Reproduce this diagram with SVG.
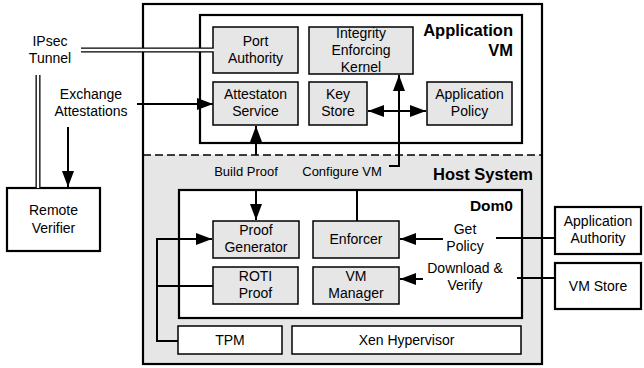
<svg xmlns="http://www.w3.org/2000/svg" width="644" height="368" viewBox="0 0 644 368">
<defs>
<marker id="ah" viewBox="0 0 16 12" refX="16" refY="6" markerWidth="8" markerHeight="6" markerUnits="strokeWidth" orient="auto-start-reverse">
<path d="M0,0 L16,6 L0,12 z" fill="#000"/>
</marker>
</defs>
<style>
text{font-family:"Liberation Sans",Arial,sans-serif;fill:#000}
.t{font-size:14px;text-anchor:middle}
.s{font-size:13px;text-anchor:middle}
.b{font-size:16.5px;font-weight:bold;text-anchor:end}
.box{fill:#e6e6e6;stroke:#000;stroke-width:1.5}
.wbox{fill:#fff;stroke:#000;stroke-width:1.5}
.big{fill:#fff;stroke:#000;stroke-width:2.2}
.ln{fill:none;stroke:#000;stroke-width:2}
.arr{fill:none;stroke:#000;stroke-width:2;marker-end:url(#ah)}
</style>
<g id="host">
<rect x="143" y="4" width="399" height="360" fill="#fff" stroke="none"/>
<rect x="143" y="155" width="399" height="209" fill="#e6e6e6"/>
<line x1="143" y1="155" x2="542" y2="155" stroke="#000" stroke-width="1.5" stroke-dasharray="8,4"/>
<rect x="143" y="4" width="399" height="360" fill="none" stroke="#000" stroke-width="2.2"/>
<text class="b" x="533" y="180">Host System</text>
</g>
<g id="appvm">
<rect class="big" x="200" y="15" width="322" height="128"/>
<text class="b" x="513" y="36">Application</text>
<text class="b" x="513" y="56">VM</text>
</g>
<g id="port-authority">
<rect class="box" x="213" y="27" width="85" height="46"/>
<text class="t" x="255.5" y="46">Port</text>
<text class="t" x="255.5" y="63">Authority</text>
</g>
<g id="iek">
<rect class="box" x="309" y="27" width="104" height="47"/>
<text class="t" x="361" y="38">Integrity</text>
<text class="t" x="361" y="55">Enforcing</text>
<text class="t" x="361" y="72">Kernel</text>
</g>
<g id="attestation-service">
<rect class="box" x="213" y="82" width="85" height="43"/>
<text class="t" x="255.5" y="99">Attestaton</text>
<text class="t" x="255.5" y="116">Service</text>
</g>
<g id="key-store">
<rect class="box" x="309" y="82" width="58" height="43"/>
<text class="t" x="338" y="99">Key</text>
<text class="t" x="338" y="116">Store</text>
</g>
<g id="app-policy">
<rect class="box" x="427" y="82" width="85" height="43"/>
<text class="t" x="469.5" y="99">Application</text>
<text class="t" x="469.5" y="116">Policy</text>
</g>
<g id="dom0">
<rect class="big" x="179" y="190" width="343" height="128"/>
<text class="b" x="513" y="211" style="font-size:15.5px">Dom0</text>
</g>
<g id="proof-generator">
<rect class="box" x="213" y="221" width="86" height="37"/>
<text class="t" x="256" y="235">Proof</text>
<text class="t" x="256" y="252">Generator</text>
</g>
<g id="enforcer">
<rect class="box" x="313" y="221" width="86" height="37"/>
<text class="t" x="356" y="244">Enforcer</text>
</g>
<g id="roti-proof">
<rect class="box" x="213" y="267" width="85" height="37"/>
<text class="t" x="255.5" y="281">ROTI</text>
<text class="t" x="255.5" y="298">Proof</text>
</g>
<g id="vm-manager">
<rect class="box" x="313" y="267" width="86" height="37"/>
<text class="t" x="356" y="281">VM</text>
<text class="t" x="356" y="298">Manager</text>
</g>
<g id="tpm">
<rect class="wbox" x="178" y="326" width="104" height="28"/>
<text class="t" x="230" y="345">TPM</text>
</g>
<g id="xen">
<rect class="wbox" x="292" y="326" width="229" height="28"/>
<text class="t" x="406.5" y="345">Xen Hypervisor</text>
</g>
<g id="remote-verifier">
<rect class="big" x="7" y="188" width="93" height="63"/>
<text class="t" x="53.5" y="215">Remote</text>
<text class="t" x="53.5" y="233">Verifier</text>
</g>
<g id="app-authority">
<rect class="big" x="555" y="207" width="86" height="47"/>
<text class="t" x="598" y="226">Application</text>
<text class="t" x="598" y="243">Authority</text>
</g>
<g id="vm-store">
<rect class="big" x="555" y="263" width="86" height="46"/>
<text class="t" x="598" y="291">VM Store</text>
</g>
<g id="connectors">
<line x1="81" y1="50" x2="213" y2="50" stroke="#000" stroke-width="5"/>
<line x1="81" y1="50" x2="214" y2="50" stroke="#fff" stroke-width="2.4"/>
<line x1="38" y1="75" x2="38" y2="188" stroke="#000" stroke-width="5"/>
<line x1="38" y1="75" x2="38" y2="188" stroke="#fff" stroke-width="2.4"/>
<line class="arr" x1="137" y1="104" x2="213" y2="104"/>
<line class="arr" x1="68" y1="127" x2="68" y2="187"/>
<line class="arr" x1="256" y1="155" x2="256" y2="126"/>
<line class="arr" x1="256" y1="191" x2="256" y2="220"/>
<line class="ln" x1="357" y1="191" x2="357" y2="221"/>
<polyline class="arr" points="389,166 399,166 399,75"/>
<line class="arr" x1="399" y1="111" x2="368" y2="111"/>
<line class="arr" x1="399" y1="111" x2="426" y2="111"/>
<polyline class="arr" points="178,341 157,341 157,239 212,239"/>
<line class="ln" x1="157" y1="286" x2="213" y2="286"/>
<line class="arr" x1="443" y1="239" x2="400" y2="239"/>
<line class="ln" x1="496" y1="238" x2="555" y2="238"/>
<line class="arr" x1="423" y1="279" x2="400" y2="279"/>
<line class="ln" x1="517" y1="278" x2="555" y2="278"/>
</g>
<g id="labels">
<text class="t" x="50" y="46">IPsec</text>
<text class="t" x="50" y="63">Tunnel</text>
<text class="t" x="91" y="99">Exchange</text>
<text class="t" x="91" y="116">Attestations</text>
<text class="s" x="246" y="176">Build Proof</text>
<text class="s" x="342" y="176">Configure VM</text>
<text class="t" x="465" y="234">Get</text>
<text class="t" x="465" y="251">Policy</text>
<text class="t" x="465" y="273">Download &amp;</text>
<text class="t" x="465" y="290">Verify</text>
</g>
</svg>
